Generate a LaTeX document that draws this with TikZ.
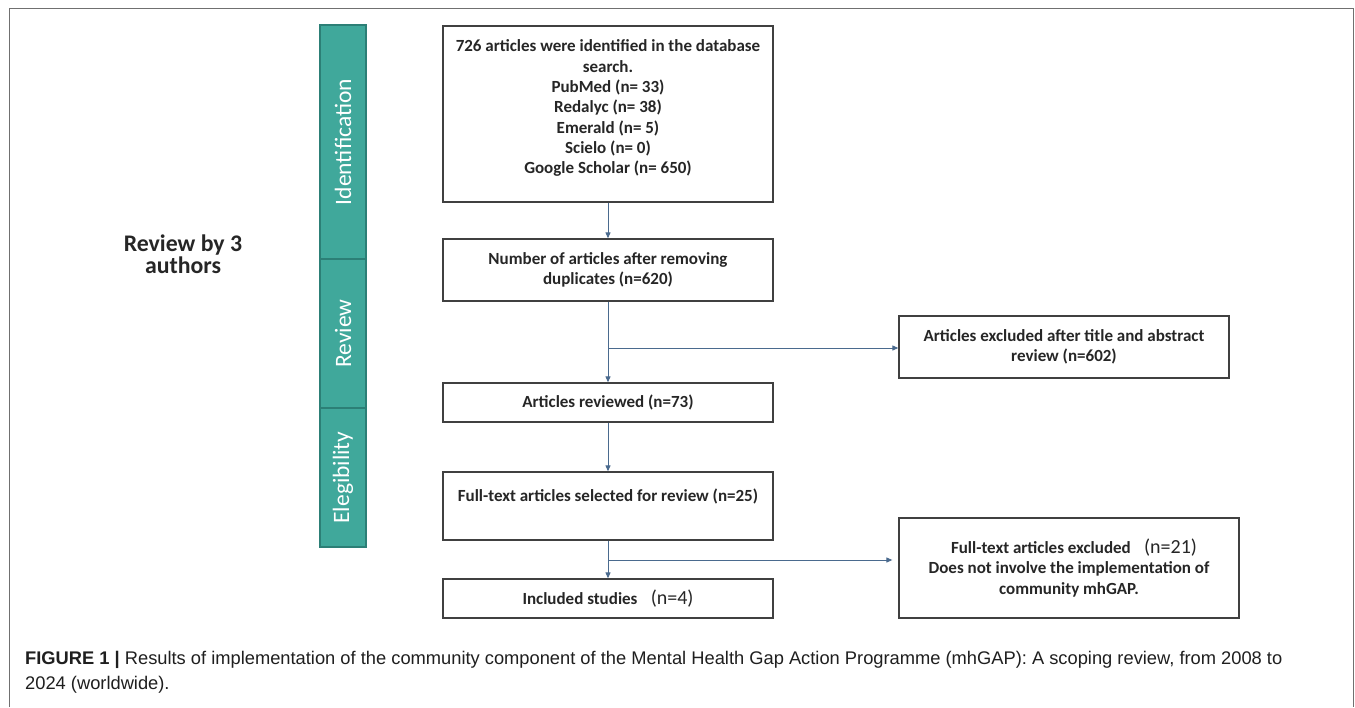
\documentclass[tikz,border=0pt]{standalone}
\usepackage{fontspec}
\setmainfont{Carlito}
\newfontfamily\capfont{Liberation Sans}
\usetikzlibrary{arrows.meta}
\definecolor{tealfill}{HTML}{40A89B}
\definecolor{tealdraw}{HTML}{2C7F76}
\definecolor{arrowblue}{HTML}{4A6A8E}
\definecolor{boxgray}{HTML}{404040}
\definecolor{framegray}{HTML}{707070}
\tikzset{
  flowbox/.style={draw=boxgray, line width=1.3pt, fill=white, inner sep=0pt, align=center, font=\fontsize{17}{20.3}\selectfont\bfseries, text=black!85},
  phase/.style={draw=tealdraw, line width=1.5pt, fill=tealfill, minimum height=46pt, inner sep=0pt, text=white, font=\fontsize{23.5}{26}\selectfont, rotate=90},
  arr/.style={draw=arrowblue, line width=1pt, -{Triangle[length=6pt,width=5pt]}},
  captext/.style={font=\capfont\fontsize{18.3}{25}\selectfont, text=black!88, align=left, inner sep=0pt, anchor=north west}
}
\begin{document}
\begin{tikzpicture}[x=1pt,y=-1pt]
\useasboundingbox (0,0) rectangle (1355,707);
\fill[white] (0,0) rectangle (1355,707);
% frame
\draw[framegray, line width=1.5pt] (9.5,707) -- (9.5,8.5) -- (1353.5,8.5) -- (1353.5,707);
% phase column
\node[phase, minimum width=234pt] (ident) at (343,142) {Identification};
\node[phase, minimum width=149pt] (revw) at (343,333.5) {Review};
\node[phase, minimum width=139pt] (elig) at (343,477.5) {Elegibility};
% left label
\node[font=\fontsize{23.8}{22}\selectfont\bfseries, align=center, text=black!85] (authors) at (183,254) {Review by 3\\authors};
% main boxes
\node[flowbox, minimum width=330pt, minimum height=176pt] (b1) at (608,114) {726 articles were identified in the database\\search.\\PubMed (n= 33)\\Redalyc (n= 38)\\Emerald (n= 5)\\Scielo (n= 0)\\Google Scholar (n= 650)\\[-6pt]};
\node[flowbox, minimum width=330pt, minimum height=62pt] (b2) at (608,270) {Number of articles after removing\\duplicates (n=620)};
\node[flowbox, minimum width=330pt, minimum height=39pt] (b3) at (608,402.5) {Articles reviewed (n=73)};
\node[flowbox, minimum width=330pt, minimum height=68pt] (b4) at (608,506) {Full-text articles selected for review (n=25)\\[2pt]};
\node[flowbox, minimum width=330pt, minimum height=39pt] (b5) at (608,598.5) {Included studies \;\;{\mdseries\fontsize{20}{22}\selectfont(n=4)}};
% right boxes
\node[flowbox, minimum width=330pt, minimum height=62pt] (r1) at (1064,347) {Articles excluded after title and abstract\\review (n=602)};
\node[flowbox, minimum width=340pt, minimum height=100pt] (r2) at (1069,568) {\hspace*{10pt}Full-text articles excluded \;\;{\mdseries\fontsize{20}{20}\selectfont(n=21)}\\Does not involve the implementation of\\community mhGAP.};
% connectors
\coordinate (k1) at (608,348);
\coordinate (k2) at (608,560);
\draw[arr] (b1) -- (b2);
\draw[arr] (b2) -- (b3);
\draw[arr] (k1) -- (k1 -| r1.west);
\draw[arr] (b3) -- (b4);
\draw[arr] (b4) -- (b5);
\draw[arr] (k2) -- ([xshift=-6pt]k2 -| r2.west);
% caption
\node[captext] (cap) at (25,651) {{\bfseries FIGURE 1 |} Results of implementation of the community component of the Mental Health Gap Action Programme (mhGAP): A scoping review, from 2008 to\\2024 (worldwide).};
\end{tikzpicture}
\end{document}
